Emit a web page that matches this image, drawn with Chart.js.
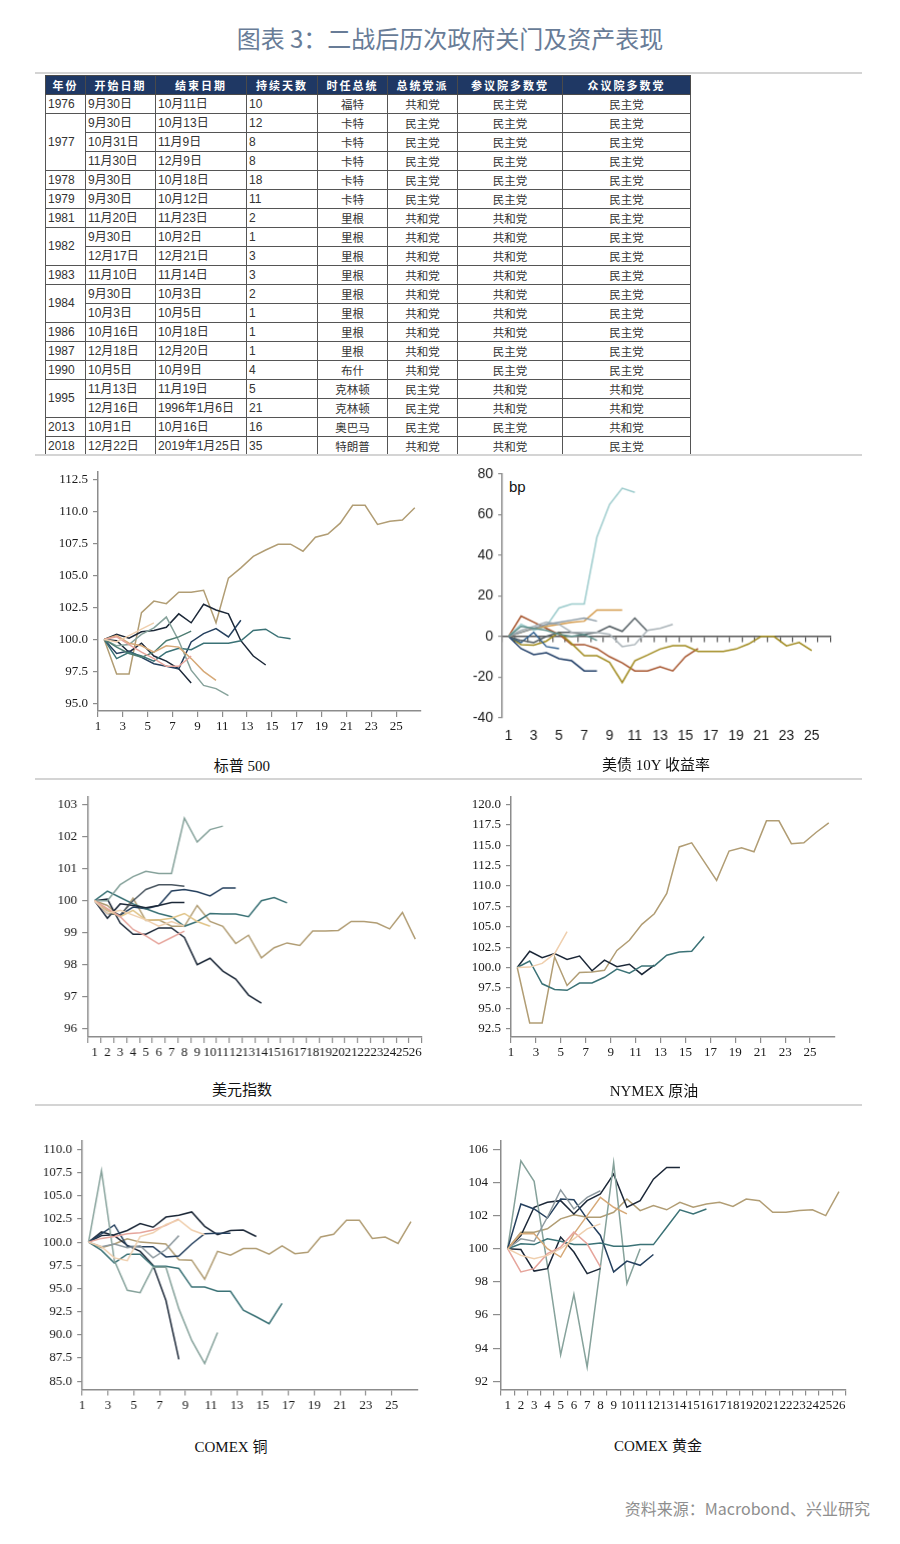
<!DOCTYPE html>
<html lang="zh-CN">
<head>
<meta charset="UTF-8">
<title>图表3：二战后历次政府关门及资产表现</title>
<script src="https://cdn.jsdelivr.net/npm/chart.js@4.4.1/dist/chart.umd.min.js"></script>
<style>
    body { margin: 0; background: #fff; }
    #page { position: relative; width: 900px; height: 1544px; overflow: hidden; font-family: "Noto Sans CJK SC", sans-serif; }
    .title { position: absolute; left: 0; width: 900px; top: 22px; text-align: center; font-size: 24px; font-weight: normal; line-height: 32px; color: #687c97; }
    .rule { position: absolute; left: 35px; width: 827px; height: 2px; background: #d4d4d4; }
    .box { position: absolute; }
    .cap { position: absolute; width: 240px; text-align: center; font-family: "Liberation Serif", "Noto Sans CJK SC", serif; font-size: 15px; line-height: 20px; color: #111; }
    .bp { position: absolute; left: 509px; top: 478px; font-family: "Liberation Sans", Arial, sans-serif; font-size: 15px; color: #111; }
    .src { position: absolute; right: 30px; top: 1496px; font-size: 16px; color: #8e8e8e; }
    table { position: absolute; left: 45px; top: 75px; width: 645px; border-collapse: collapse; table-layout: fixed; font-size: 11.5px; color: #333; }
    th { background: #1f3864; color: #fff; font-weight: bold; height: 18px; padding: 0; border: 1px solid #4a4a4a; letter-spacing: 2px; font-size: 11px; }
    td { height: 18px; padding: 0; border: 1px solid #555; line-height: 17px; white-space: nowrap; }
    td.l { text-align: left; padding-left: 2px; font-family: "Liberation Sans Narrow", "Liberation Sans", Arial, "Noto Sans CJK SC", sans-serif; font-size: 12px; }
    td.c { text-align: center; }
</style>
</head>
<body>
<div id="page">
    <div class="title">图表 3：二战后历次政府关门及资产表现</div>
    <div class="rule" style="top:72px"></div>
    <table id="tbl">
        <colgroup>
            <col style="width:40px"><col style="width:70px"><col style="width:91px"><col style="width:71px">
            <col style="width:70px"><col style="width:70px"><col style="width:105px"><col style="width:128px">
        </colgroup>
        <thead>
            <tr><th>年份</th><th>开始日期</th><th>结束日期</th><th>持续天数</th><th>时任总统</th><th>总统党派</th><th>参议院多数党</th><th>众议院多数党</th></tr>
        </thead>
        <tbody id="rows"></tbody>
    </table>
    <div class="rule" style="top:454px"></div>
    <div class="rule" style="top:778px"></div>
    <div class="rule" style="top:1104px"></div>
    <div class="bp">bp</div>
    <div class="src">资料来源：Macrobond、兴业研究</div>
</div>

<script>
// 表格
var shutdowns = [
    ['1976', '9月30日', '10月11日', '10', '福特', '共和党', '民主党', '民主党'],
    ['1977', '9月30日', '10月13日', '12', '卡特', '民主党', '民主党', '民主党'],
    ['', '10月31日', '11月9日', '8', '卡特', '民主党', '民主党', '民主党'],
    ['', '11月30日', '12月9日', '8', '卡特', '民主党', '民主党', '民主党'],
    ['1978', '9月30日', '10月18日', '18', '卡特', '民主党', '民主党', '民主党'],
    ['1979', '9月30日', '10月12日', '11', '卡特', '民主党', '民主党', '民主党'],
    ['1981', '11月20日', '11月23日', '2', '里根', '共和党', '共和党', '民主党'],
    ['1982', '9月30日', '10月2日', '1', '里根', '共和党', '共和党', '民主党'],
    ['', '12月17日', '12月21日', '3', '里根', '共和党', '共和党', '民主党'],
    ['1983', '11月10日', '11月14日', '3', '里根', '共和党', '共和党', '民主党'],
    ['1984', '9月30日', '10月3日', '2', '里根', '共和党', '共和党', '民主党'],
    ['', '10月3日', '10月5日', '1', '里根', '共和党', '共和党', '民主党'],
    ['1986', '10月16日', '10月18日', '1', '里根', '共和党', '共和党', '民主党'],
    ['1987', '12月18日', '12月20日', '1', '里根', '共和党', '民主党', '民主党'],
    ['1990', '10月5日', '10月9日', '4', '布什', '共和党', '民主党', '民主党'],
    ['1995', '11月13日', '11月19日', '5', '克林顿', '民主党', '共和党', '共和党'],
    ['', '12月16日', '1996年1月6日', '21', '克林顿', '民主党', '共和党', '共和党'],
    ['2013', '10月1日', '10月16日', '16', '奥巴马', '民主党', '民主党', '共和党'],
    ['2018', '12月22日', '2019年1月25日', '35', '特朗普', '共和党', '共和党', '民主党']
];
var yearSpan = { '1977': 3, '1982': 2, '1984': 2, '1995': 2 };

// 横轴
var dayLabels = ['1', '2', '3', '4', '5', '6', '7', '8', '9', '10', '11', '12', '13',
    '14', '15', '16', '17', '18', '19', '20', '21', '22', '23', '24', '25', '26'];
var oddDays = [1, 3, 5, 7, 9, 11, 13, 15, 17, 19, 21, 23, 25];

// 标普500
var spTicks = [95, 97.5, 100, 102.5, 105, 107.5, 110, 112.5];
var spTan = [100, 97.3, 97.3, 102.1, 103.0, 102.8, 103.7, 103.7, 103.85, 101.3, 104.8, 105.6, 106.5, 107.0, 107.45, 107.45, 106.9, 108.0, 108.25, 109.1, 110.5, 110.5, 109.0, 109.25, 109.35, 110.3];
var spNavy = [100, 100.4, 100.1, 100.6, 100.7, 100.95, 102.0, 101.3, 102.75, 102.3, 102.0, 99.9, 98.7, 98.0];
var spDark = [100, 99.9, 99.0, 99.7, 98.7, 98.3, 97.7, 96.6];
var spBlue = [100, 98.9, 99.1, 98.6, 98.1, 97.9, 97.7, 99.8, 100.45, 100.85, 100.2, 101.5];
var spTeal = [100, 98.5, 99.0, 98.7, 98.3, 99.0, 99.3, 99.2, 99.7, 99.7, 99.7, 99.9, 100.7, 100.8, 100.2, 100.05];
var spSage = [100, 99.5, 99.6, 100.4, 100.9, 101.75, 99.9, 97.6, 96.4, 96.15, 95.6];
var spPeach = [100, 99.8, 100.3, 100.8, 101.3];
var spOrange = [100, 100.3, 99.7, 99.5, 99.0, 99.5, 99.4, 98.5, 97.5, 96.8];
var spPink = [100, 100.2, 99.6, 99.0, 98.5, 97.9, 97.9, 98.7];
var spGreen = [100, 99.4, 98.9, 98.6, 99.0, 99.9, 100.2, 100.65];

// 美债10Y收益率 (bp)
var tyTicks = [-40, -20, 0, 20, 40, 60, 80];
var tyCyan = [0, 6, 3, 5, 14, 16, 16, 49, 65, 73, 71];
var tyRust = [0, 10, 7, 4, 1, -4, -4, -6, -10, -13, -17, -17, -15, -17, -10, -6];
var tyOlive = [0, -4, -4.3, -2.3, 2, -3.5, -9.5, -9.5, -12.8, -22.7, -12, -9.2, -6.2, -4.6, -4.6, -7.4, -7.4, -7.4, -6.2, -3.7, 0, 0, -4.6, -3, -7];
var tyOrange = [0, 2, 4, 5, 6, 7, 7.5, 13, 13, 13];
var tySlate = [0, -2, -3, 0, 2, 2, 1, 2, 5, 2.5, 9, 2.5];
var tySilver = [0, 3, 5, 7, 6, 2, 2, 2, 1, -5, -4, 3, 4, 6];
var tyGray = [0, 2, 4, 6, 7, 8, 9, 7.5];
var tyNavy = [0, -6, -9, -8, -11, -12, -17, -17];
var tyBlue = [0, -3, 2, -5, -6];
var tyGreen = [0, 5, 4, 3, 1, 0, 1, -2];

// 美元指数
var dxTicks = [96, 97, 98, 99, 100, 101, 102, 103];
var dxSage = [100, 100.0, 100.5, 100.75, 100.92, 100.85, 100.85, 102.58, 101.83, 102.22, 102.33];
var dxNavy = [100, 100.05, 99.3, 98.95, 98.95, 99.15, 99.15, 98.85, 98.0, 98.2, 97.8, 97.55, 97.05, 96.8];
var dxBlue = [100, 99.7, 99.55, 99.8, 99.75, 99.85, 100.3, 100.35, 100.28, 100.15, 100.4, 100.4];
var dxTeal = [100, 100.3, 100.1, 99.9, 99.75, 99.6, 99.5, 99.2, 99.35, 99.6, 99.58, 99.58, 99.5, 100.0, 100.1, 99.93];
var dxDark = [100, 99.45, 99.9, 99.85, 99.78, 99.85, 99.94, 99.94];
var dxSlate = [100, 99.6, 99.55, 100.0, 100.35, 100.5, 100.5, 100.45];
var dxTan = [100, 99.85, 99.5, 100.08, 99.38, 99.4, 99.2, 99.2, 99.85, 99.35, 99.2, 98.66, 98.92, 98.21, 98.53, 98.68, 98.6, 99.05, 99.05, 99.07, 99.35, 99.35, 99.3, 99.12, 99.63, 98.8];
var dxGold = [100, 99.7, 99.5, 99.7, 99.4, 99.4, 99.45, 99.6, 99.35, 99.2];
var dxPink = [100, 99.75, 99.5, 99.1, 98.9, 98.65, 98.85, 99.05];
var dxPeach = [100, 99.6, 99.7, 99.55, 99.4, 99.2, 99.35, 99.2];

// NYMEX原油
var nyTicks = [92.5, 95, 97.5, 100, 102.5, 105, 107.5, 110, 112.5, 115, 117.5, 120];
var nyTan = [100, 93.2, 93.2, 101.3, 97.8, 99.4, 99.45, 99.65, 102.1, 103.35, 105.3, 106.6, 109.1, 114.8, 115.3, 113.0, 110.7, 114.3, 114.7, 114.2, 118.0, 118.0, 115.2, 115.3, 116.6, 117.75];
var nyNavy = [100, 102.0, 101.2, 101.7, 101.0, 101.4, 99.6, 100.9, 100.1, 100.4, 99.15, 100.3];
var nyTeal = [100, 100.8, 98.0, 97.3, 97.2, 98.1, 98.1, 98.8, 99.8, 99.3, 100.2, 100.2, 101.5, 101.9, 102.0, 103.8];
var nyPeach = [100, 100.05, 100.5, 101.7, 104.4];

// COMEX铜
var cuTicks = [85, 87.5, 90, 92.5, 95, 97.5, 100, 102.5, 105, 107.5, 110];
var cuTan = [100, 99.4, 99.8, 100.35, 100, 99.9, 99.8, 98.1, 98.05, 96.0, 99.0, 98.6, 99.3, 99.3, 98.7, 99.6, 98.75, 98.9, 100.55, 100.85, 102.35, 102.35, 100.4, 100.55, 99.85, 102.2];
var cuSage = [100, 107.7, 98.0, 94.8, 94.55, 97.3, 97.3, 92.8, 89.4, 86.9, 90.25];
var cuTeal = [100, 99.1, 97.75, 98.7, 98.7, 97.4, 97.4, 97.15, 95.15, 95.15, 94.7, 94.7, 92.65, 91.95, 91.2, 93.4];
var cuNavy = [100, 101.1, 100.7, 99.65, 99.0, 97.5, 93.7, 87.35];
var cuBlue = [100, 100.9, 101.85, 99.55, 99.5, 99.5, 98.4, 98.5, 99.8, 100.9, 100.95, 100.95];
var cuDark = [100, 100.7, 100.8, 101.25, 102.0, 101.6, 102.7, 102.9, 103.25, 101.7, 100.8, 101.25, 101.3, 100.6];
var cuPink = [100, 100.4, 100.6, 100.9, 101.0, 101.3, 101.8, 102.5];
var cuPeach = [100, 99.5, 98.3, 98.0, 100.6, 101.0, 101.9, 102.4, 101.3, 100.8];
var cuGray = [100, 99.5, 99.8, 99.4, 99.6, 98.3, 99.2, 100.7];

// COMEX黄金
var auTicks = [92, 93, 94, 95, 96, 97, 98, 99, 100, 101, 102, 103, 104, 105, 106];
var auTan = [100, 101.0, 101.0, 101.2, 101.8, 102.05, 101.9, 101.9, 102.2, 103.0, 102.3, 102.6, 102.35, 102.8, 102.5, 102.7, 102.8, 102.55, 103.0, 102.9, 102.2, 102.2, 102.3, 102.35, 102.0, 103.45];
var auSage = [100, 105.3, 104.07, 99.0, 93.6, 97.25, 92.86, 98.9, 105.2, 97.9, 100.0];
var auNavy = [100, 100.8, 102.5, 102.8, 102.9, 102.1, 102.9, 103.3, 104.5, 102.5, 102.9, 104.2, 104.9, 104.9];
var auBlue = [100, 102.7, 102.4, 101.85, 103.0, 102.95, 101.8, 100.8, 98.6, 99.25, 99.0, 99.65];
var auDark = [100, 99.95, 98.65, 98.8, 100.7, 99.8, 98.5, 98.8];
var auTeal = [100, 100.3, 100.25, 100.6, 100.45, 100.25, 100.25, 100.35, 100.15, 100.15, 100.25, 100.25, 101.3, 102.35, 102.1, 102.4];
var auSlate = [100, 100.6, 100.45, 101.9, 103.55, 102.4, 103.1, 103.5];
var auOrange = [100, 100.9, 100.9, 100.0, 99.5, 100.9, 102.0, 103.1, 102.5, 102.1];
var auPink = [100, 98.6, 98.8, 99.7, 100.1, 101.0, 100.3, 98.9];
var auPeach = [100, 99.6, 99.4, 99.6, 100.0, 100.6, 101.2, 101.5];

// ---- 表格生成 ----
var tbody = document.getElementById('rows');
shutdowns.forEach(function(r) {
    var tr = document.createElement('tr');
    r.forEach(function(v, i) {
        if (i === 0 && v === '') return;
        var td = document.createElement('td');
        td.textContent = v;
        td.className = i < 4 ? 'l' : 'c';
        if (i === 0 && yearSpan[v]) td.rowSpan = yearSpan[v];
        tr.appendChild(td);
    });
    tbody.appendChild(tr);
});

// ---- 图表 ----
var AXIS = '#8c8c8c', INK = '#1a1a1a';
var serif = { family: '"Liberation Serif", "Times New Roman", serif', size: 13 };
var sans = { family: '"Liberation Sans", Arial, sans-serif', size: 14 };
var PAD_L = 64, PAD_T = 14, PAD_R = 18, AX_H = 34;
var page = document.getElementById('page');

var C = {
    tan: '#b19d74', navy: '#1c2838', blue: '#25405e', teal: '#3b7276', sage: '#86a29b',
    peach: '#efcfae', orange: '#d6a978', pink: '#e6a59c', green: '#4d7d72', gray: '#8e9aa0', slate: '#4a5660', gold: '#e0c488'
};

function line(vals, color, shift) {
    return {
        data: shift == null ? vals : vals.map(function(v, i) { return { x: i + shift, y: v }; }),
        borderColor: color, borderWidth: 1.5, pointRadius: 0, tension: 0, fill: false, xAxisID: 'x'
    };
}

function yScale(min, max, ticks, font, tickLen, fmt) {
    return {
        min: min, max: max, bounds: 'data',
        afterFit: function(s) { s.width = PAD_L; },
        afterBuildTicks: function(s) { s.ticks = ticks.map(function(v) { return { value: v }; }); },
        ticks: { font: font, color: INK, padding: 5, callback: fmt },
        grid: { drawOnChartArea: false, tickLength: tickLen, color: AXIS, lineWidth: 1.2 },
        border: { color: AXIS, width: 1.5 }
    };
}

// 刻度在分类边界、标签在刻度上的横轴
function xEdge() {
    return {
        type: 'linear', min: 1, max: 27, bounds: 'data',
        afterFit: function(s) { s.height = AX_H; },
        afterBuildTicks: function(s) { s.ticks = oddDays.map(function(v) { return { value: v }; }); },
        ticks: { font: serif, color: INK, padding: 2, maxRotation: 0, autoSkip: false },
        grid: { drawOnChartArea: false, tickLength: 6, color: AXIS, lineWidth: 1.2 },
        border: { color: AXIS, width: 1.5 }
    };
}

// 分类居中的横轴
function xCat() {
    return {
        type: 'category', offset: true,
        afterFit: function(s) { s.height = AX_H; },
        ticks: { font: serif, color: INK, padding: 2, maxRotation: 0, autoSkip: false },
        grid: { offset: true, drawOnChartArea: false, tickLength: 6, color: AXIS, lineWidth: 1.2 },
        border: { color: AXIS, width: 1.5 }
    };
}

function draw(a, caption, data, scales) {
    var div = document.createElement('div');
    div.className = 'box';
    div.style.left = (a.l - PAD_L) + 'px';
    div.style.top = (a.t - PAD_T) + 'px';
    div.style.width = (a.r - a.l + PAD_L + PAD_R) + 'px';
    div.style.height = (a.b - a.t + PAD_T + AX_H) + 'px';
    var cv = document.createElement('canvas');
    div.appendChild(cv);
    page.appendChild(div);

    var cap = document.createElement('div');
    cap.className = 'cap';
    cap.textContent = caption;
    cap.style.left = (a.cx - 120) + 'px';
    cap.style.top = (a.cy - 10) + 'px';
    page.appendChild(cap);

    new Chart(cv, {
        type: 'line',
        data: data,
        options: {
            responsive: true, maintainAspectRatio: false, animation: false, events: [],
            layout: { autoPadding: false, padding: { left: 0, top: PAD_T, right: PAD_R, bottom: 0 } },
            plugins: { legend: { display: false }, tooltip: { enabled: false } },
            scales: scales
        }
    });
}

function fix1(v) { return v.toFixed(1); }
function plain(v) { return String(v); }

// 标普500
draw({ l: 98, t: 471.7, r: 421, b: 710.7, cx: 242, cy: 766 }, '标普 500', {
    datasets: [
        line(spPeach, C.peach, 1.5), line(spPink, C.pink, 1.5), line(spOrange, C.orange, 1.5),
        line(spGreen, C.green, 1.5), line(spSage, C.sage, 1.5), line(spTeal, C.teal, 1.5),
        line(spBlue, C.blue, 1.5), line(spDark, C.navy, 1.5), line(spNavy, C.navy, 1.5), line(spTan, C.tan, 1.5)
    ]
}, { x: xEdge(), y: yScale(94.4, 113.1, spTicks, serif, 5, fix1) });

// 美债10Y收益率
var tyX = {
    type: 'category', offset: true,
    afterFit: function(s) { s.height = AX_H; },
    ticks: {
        font: sans, color: INK, padding: 10, maxRotation: 0, autoSkip: false,
        callback: function(v, i) { return oddDays.indexOf(i + 1) >= 0 ? dayLabels[i] : ''; }
    },
    grid: { display: false, drawTicks: false },
    border: { display: false }
};
var tyZero = {
    type: 'category', axis: 'x', offset: true, position: { y: 0 },
    ticks: { display: false },
    grid: { offset: true, drawOnChartArea: false, tickLength: 5, color: '#555', lineWidth: 1.2 },
    border: { color: '#555', width: 1.5 }
};
draw({ l: 502.3, t: 474, r: 830, b: 716.7, cx: 656, cy: 765 }, '美债 10Y 收益率', {
    labels: dayLabels,
    datasets: [
        line(tyGreen, '#5e8f8a'), line(tyGray, '#8b9aa5'), line(tySilver, '#aab3b8'), line(tySlate, '#545e63'),
        line(tyOrange, '#d49a4a'), line(tyBlue, '#2f5f8f'), line(tyNavy, '#1f3d66'),
        line(tyCyan, '#9ccbcc'), line(tyOlive, '#a08a1e'), line(tyRust, '#a5522a')
    ]
}, { x: tyX, x2: tyZero, y: yScale(-40, 80, tyTicks, sans, 4, plain) });

// 美元指数
draw({ l: 88.3, t: 796.7, r: 421, b: 1036.7, cx: 242, cy: 1090 }, '美元指数', {
    labels: dayLabels,
    datasets: [
        line(dxPeach, C.peach), line(dxPink, C.pink), line(dxGold, C.gold), line(dxSlate, C.slate),
        line(dxDark, C.navy), line(dxSage, C.sage), line(dxTeal, C.teal), line(dxBlue, C.blue),
        line(dxNavy, C.navy), line(dxTan, C.tan)
    ]
}, { x: xCat(), y: yScale(95.74, 103.24, dxTicks, serif, 6, plain) });

// NYMEX原油
draw({ l: 511, t: 796.7, r: 835, b: 1036.7, cx: 654, cy: 1091 }, 'NYMEX 原油', {
    datasets: [
        line(nyPeach, C.peach, 1.5), line(nyTeal, C.teal, 1.5), line(nyNavy, C.navy, 1.5), line(nyTan, C.tan, 1.5)
    ]
}, { x: xEdge(), y: yScale(91.47, 120.93, nyTicks, serif, 5, fix1) });

// COMEX铜
draw({ l: 82.3, t: 1140.7, r: 416.7, b: 1389.3, cx: 231, cy: 1447 }, 'COMEX 铜', {
    datasets: [
        line(cuPeach, C.peach, 1.5), line(cuPink, C.pink, 1.5), line(cuGray, C.gray, 1.5),
        line(cuSage, C.sage, 1.5), line(cuTeal, C.teal, 1.5), line(cuBlue, C.blue, 1.5),
        line(cuDark, C.navy, 1.5), line(cuNavy, C.navy, 1.5), line(cuTan, C.tan, 1.5)
    ]
}, { x: xEdge(), y: yScale(84.1, 110.9, cuTicks, serif, 5, fix1) });

// COMEX黄金
draw({ l: 500.7, t: 1140.7, r: 845.3, b: 1389.3, cx: 658, cy: 1446 }, 'COMEX 黄金', {
    labels: dayLabels,
    datasets: [
        line(auPeach, C.peach), line(auPink, C.pink), line(auOrange, C.orange), line(auSlate, C.gray),
        line(auTeal, C.teal), line(auDark, C.navy), line(auBlue, C.blue), line(auSage, C.sage),
        line(auNavy, C.navy), line(auTan, C.tan)
    ]
}, { x: xCat(), y: yScale(91.5, 106.5, auTicks, serif, 8, function(v) { return v % 2 === 0 ? String(v) : ''; }) });
</script>
</body>
</html>
